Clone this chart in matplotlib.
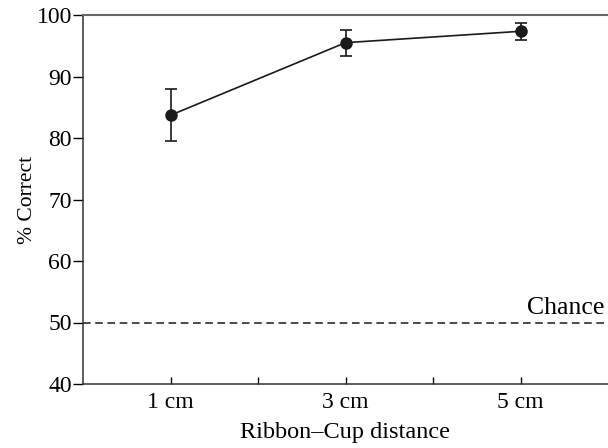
import matplotlib.pyplot as plt

distances = [1, 3, 5]
tick_labels = ["1 cm", "3 cm", "5 cm"]
pct_correct = [83.7, 95.5, 97.35]
err = [4.2, 2.1, 1.4]
chance = 50

plt.rcParams['font.family'] = ['Liberation Serif', 'DejaVu Serif']
plt.rcParams['font.size'] = 17

fig = plt.figure(figsize=(6.08, 4.48), dpi=100)
ax = fig.add_axes([83 / 608, 1 - 384 / 448, 1 - 83 / 608, (384 - 15) / 448])

ax.errorbar(distances, pct_correct, yerr=err, color='#1a1a1a', lw=1.2,
            marker='o', ms=8, capsize=4, elinewidth=1.2, capthick=1.2)
ax.axhline(chance, color='#1a1a1a', lw=1.1, ls=(0, (5, 3)))
ax.text(5.96, chance + 0.5, "Chance", ha='right', va='bottom', fontsize=18.5)

ax.set_xlim(0, 6)
ax.set_ylim(40, 100)
ax.set_xticks([1, 2, 3, 4, 5])
ax.set_xticklabels([tick_labels[0], "", tick_labels[1], "", tick_labels[2]])
ax.set_yticks(range(40, 101, 10))
ax.tick_params(axis='y', direction='out', length=7, width=1, pad=1)
ax.tick_params(axis='x', direction='in', length=5, width=1, pad=6)

ax.spines['right'].set_visible(False)
ax.spines['top'].set_color('#666666')
ax.spines['top'].set_linewidth(1.5)
for s in ('left', 'bottom'):
    ax.spines[s].set_linewidth(1.1)
    ax.spines[s].set_color('#333333')

ax.set_xlabel("Ribbon–Cup distance", fontsize=17.5, labelpad=6)
ax.set_ylabel("% Correct", fontsize=15.5, labelpad=0)

fig.savefig("out.png", dpi=100)
